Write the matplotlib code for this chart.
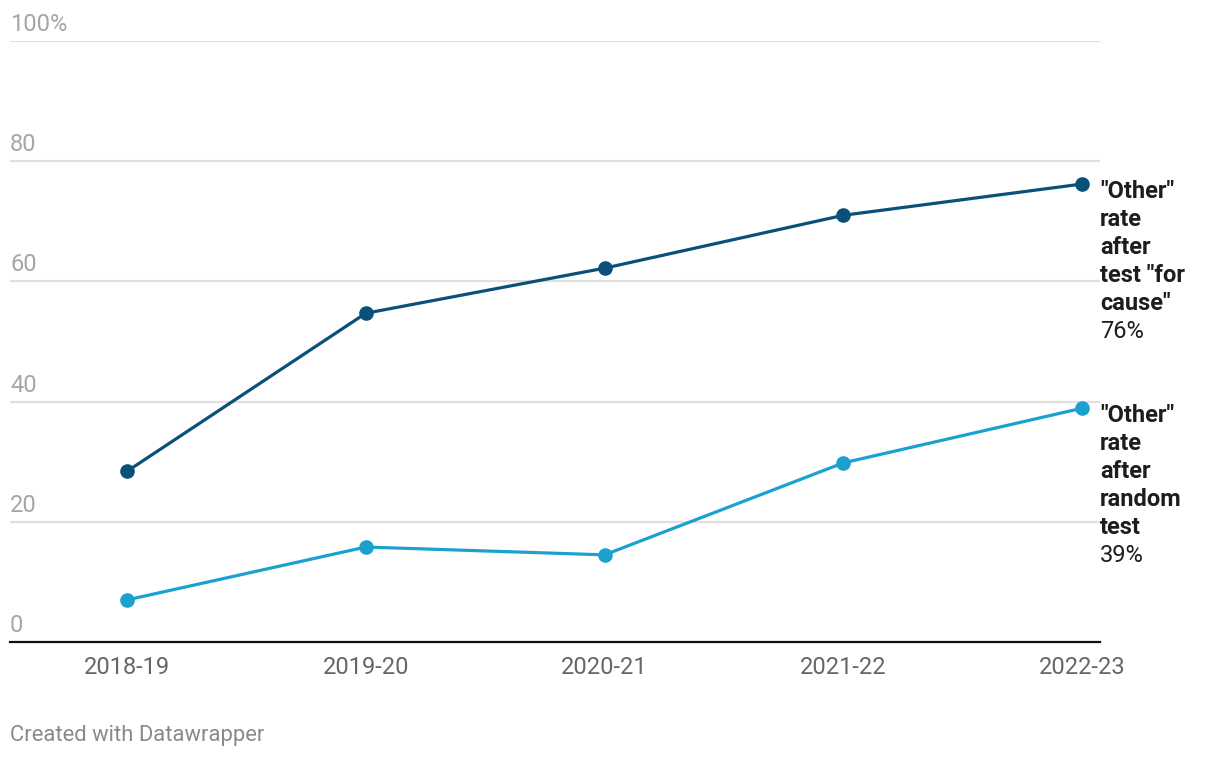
import matplotlib

matplotlib.use("Agg")
import matplotlib.pyplot as plt

plt.rcParams["font.family"] = ["Roboto", "DejaVu Sans"]

# data
years = ["2018-19", "2019-20", "2020-21", "2021-22", "2022-23"]
for_cause = [28.4, 54.7, 62.2, 71.0, 76.2]
random_test = [7.0, 15.8, 14.5, 29.8, 38.9]
y_ticks = [0, 20, 40, 60, 80, 100]
y_tick_labels = ["0", "20", "40", "60", "80", "100%"]

series = [
    (for_cause, "#0a5079", ['"Other"', "rate", "after", 'test "for', 'cause"'], "76%"),
    (random_test, "#1aa1cf", ['"Other"', "rate", "after", "random", "test"], "39%"),
]

GRID = "#e0e0e0"
YTICK = "#a6a6a6"
XTICK = "#666666"
LABEL = "#1d1d1d"
FS = 17

fig = plt.figure(figsize=(12.2, 7.58), dpi=100)
ax = fig.add_axes([10 / 1220, 116 / 758, 1090 / 1220, 601 / 758])

x = list(range(len(years)))
for vals, color, name_lines, value in series:
    ax.plot(x, vals, color=color, lw=2.3, marker="o", ms=9.5, zorder=3,
            clip_on=False)
    # end-of-line label: bold name lines then value
    lines = name_lines + [value]
    for i, line in enumerate(lines):
        ax.annotate(line, (x[-1], vals[-1]), xytext=(18, 4 - 28 * i),
                    textcoords="offset pixels", ha="left", va="top",
                    fontsize=FS, color=LABEL,
                    fontweight="bold" if i < len(name_lines) else "normal",
                    annotation_clip=False)

ax.set_xlim(-0.49, 4.075)
ax.set_ylim(0, 100)

# gridlines and left-aligned y labels sitting on top of them
for t, lab in zip(y_ticks, y_tick_labels):
    if t > 0:
        ax.axhline(t, color=GRID, lw=1.6, zorder=1)
    ax.annotate(lab, (0, t), xycoords=ax.get_yaxis_transform(),
                xytext=(0, 10), textcoords="offset pixels",
                ha="left", va="baseline", fontsize=FS, color=YTICK)
ax.axhline(0, color="#111111", lw=1.6, zorder=2, clip_on=False)

ax.set_yticks([])
ax.set_xticks(x)
ax.set_xticklabels(years, fontsize=FS, color=XTICK)
ax.tick_params(axis="x", length=0, pad=10)
for spine in ax.spines.values():
    spine.set_visible(False)

fig.text(10 / 1220, 1 - 735 / 758, "Created with Datawrapper", ha="left",
         va="center", fontsize=15.8, color="#8a8a8a")

fig.savefig("out.png", dpi=100, facecolor="white")
